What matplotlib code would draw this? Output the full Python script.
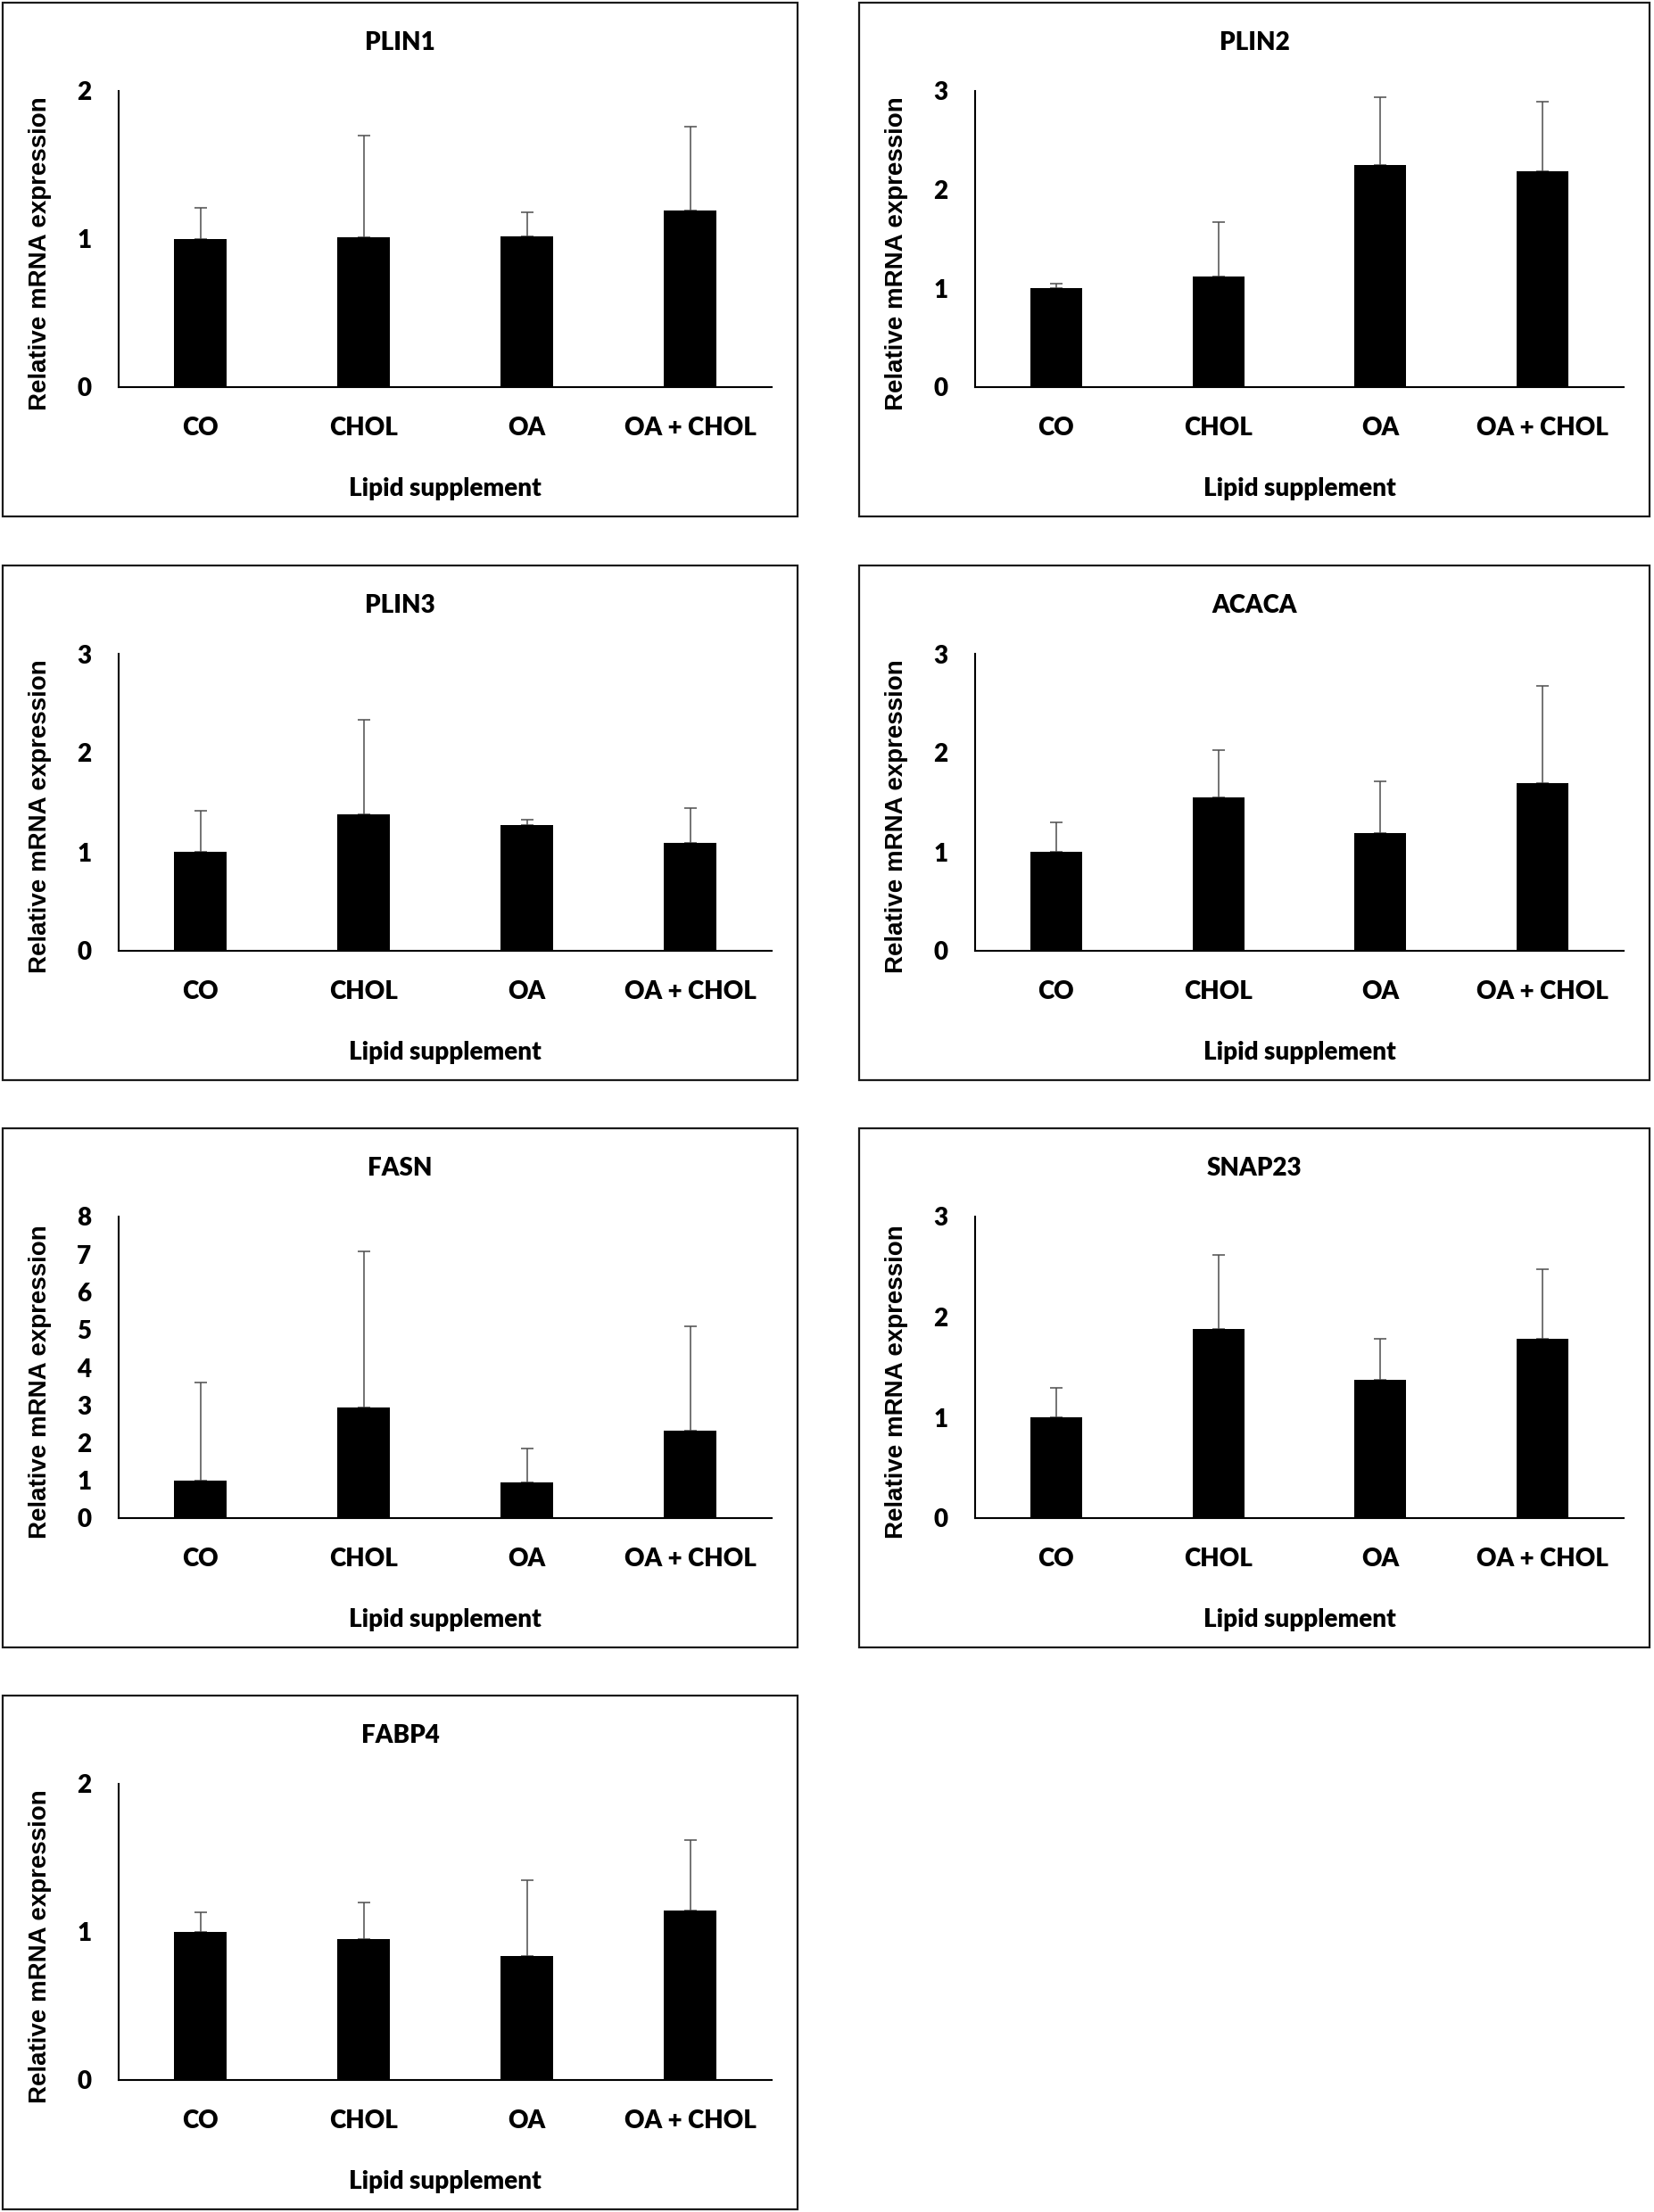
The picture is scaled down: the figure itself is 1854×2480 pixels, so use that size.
import matplotlib
matplotlib.use("Agg")
import matplotlib.pyplot as plt
import numpy as np
from matplotlib.patches import Rectangle

groups = ["CO", "CHOL", "OA", "OA + CHOL"]

plin1_mean = [1.00, 1.015, 1.02, 1.19]
plin1_err = [0.21, 0.685, 0.16, 0.57]
plin2_mean = [1.00, 1.12, 2.25, 2.19]
plin2_err = [0.05, 0.55, 0.69, 0.70]
plin3_mean = [1.00, 1.38, 1.27, 1.09]
plin3_err = [0.41, 0.95, 0.05, 0.35]
acaca_mean = [1.00, 1.55, 1.19, 1.69]
acaca_err = [0.30, 0.48, 0.52, 0.99]
fasn_mean = [1.00, 2.94, 0.95, 2.32]
fasn_err = [2.60, 4.13, 0.90, 2.78]
snap23_mean = [1.00, 1.88, 1.38, 1.78]
snap23_err = [0.30, 0.74, 0.40, 0.70]
fabp4_mean = [1.00, 0.95, 0.84, 1.145]
fabp4_err = [0.13, 0.25, 0.51, 0.475]

genes = ["PLIN1", "PLIN2", "PLIN3", "ACACA", "FASN", "SNAP23", "FABP4"]
means = [plin1_mean, plin2_mean, plin3_mean, acaca_mean, fasn_mean, snap23_mean, fabp4_mean]
errs = [plin1_err, plin2_err, plin3_err, acaca_err, fasn_err, snap23_err, fabp4_err]
ymax = [2, 3, 3, 3, 8, 3, 2]

W, H = 1854, 2480
fig = plt.figure(figsize=(W / 100, H / 100), dpi=100)

calibri = ["Lato", "DejaVu Sans"]
arial = ["Liberation Sans", "DejaVu Sans"]
txt_w = "heavy"

# panel boxes in pixels (left, top, right, bottom)
cols = [(3, 894), (963, 1849)]
rows = [(3, 579), (634, 1211), (1265, 1847), (1901, 2477)]


def fx(px):
    return px / W


def fy(py):
    return 1 - py / H


for k, gene in enumerate(genes):
    bx0, bx1 = cols[k % 2]
    by0, by1 = rows[k // 2]

    fig.patches.append(Rectangle((fx(bx0), fy(by1)), fx(bx1 - bx0), (by1 - by0) / H,
                                 transform=fig.transFigure, fill=False,
                                 edgecolor="#1a1a1a", linewidth=1.6))

    ax_l, ax_r = bx0 + 130, bx1 - 29
    ax_t, ax_b = by0 + 99, by1 - 145
    ax = fig.add_axes([fx(ax_l), fy(ax_b), fx(ax_r - ax_l), (ax_b - ax_t) / H])

    x = np.arange(len(groups))
    ax.bar(x, means[k], width=0.32, color="black", zorder=2)
    ax.errorbar(x, means[k], yerr=[np.zeros(len(groups)), errs[k]], fmt="none",
                ecolor="#4d4d4d", elinewidth=1.1, capsize=4.7, capthick=1.1, zorder=1)

    ax.set_xlim(-0.5, len(groups) - 0.5)
    ax.set_ylim(0, ymax[k])
    ax.set_yticks(np.arange(0, ymax[k] + 1, 1))
    ax.set_xticks(x)
    ax.set_xticklabels(groups)
    for sp in ["top", "right"]:
        ax.spines[sp].set_visible(False)
    for sp in ["left", "bottom"]:
        ax.spines[sp].set_linewidth(1.5)
        ax.spines[sp].set_color("black")
    ax.tick_params(axis="y", length=0, pad=22, labelsize=20)
    ax.tick_params(axis="x", length=0, pad=24, labelsize=20)
    for lab in ax.get_xticklabels() + ax.get_yticklabels():
        lab.set_fontfamily(calibri)
        lab.set_fontweight(txt_w)
        lab.set_color("black")

    fig.text(fx((bx0 + bx1) / 2), fy(by0 + 45), gene, ha="center", va="center",
             fontsize=20, fontweight=txt_w, family=calibri, color="black")
    fig.text(fx((ax_l + ax_r) / 2), fy(by1 - 31), "Lipid supplement", ha="center", va="center",
             fontsize=20, fontweight=txt_w, family=calibri, color="black")
    fig.text(fx(bx0 + 42), fy((ax_t + ax_b) / 2 + 16), "Relative mRNA expression",
             ha="center", va="center", rotation=90,
             fontsize=20, fontweight="bold", family=arial, color="black")

plt.savefig("out.png", dpi=100)
